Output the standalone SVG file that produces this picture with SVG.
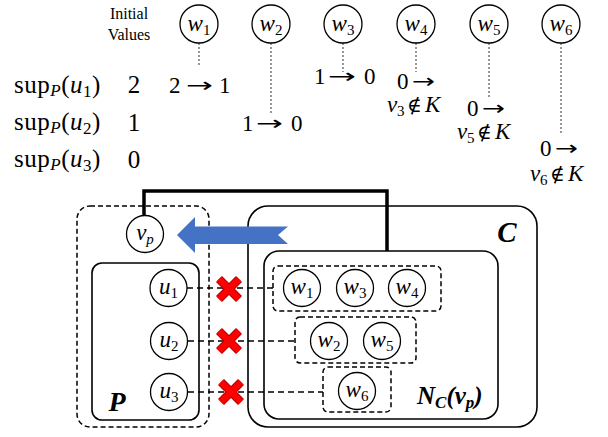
<svg xmlns="http://www.w3.org/2000/svg" width="608" height="437" viewBox="0 0 608 437">
<style>
text{font-family:"Liberation Serif","Times New Roman",serif;fill:#000}
.nd{fill:#fff;stroke:#000;stroke-width:1.3}
.lb{font-size:23px;text-anchor:middle}
.it{font-style:italic}
.sb{font-size:15px}
.dot{stroke:#555;stroke-width:1.2;stroke-dasharray:2 2;fill:none}
.box{fill:none;stroke:#000;stroke-width:1.6}
.dbox{fill:none;stroke:#000;stroke-width:1.5;stroke-dasharray:5 3}
.dl{stroke:#000;stroke-width:1.5;stroke-dasharray:6 4;fill:none}
.row{font-size:25px}
.tr{font-size:23px}
.ar{font-family:"DejaVu Sans",sans-serif;font-size:20px}
.ni{font-family:"DejaVu Serif",serif;font-size:20px}
.xo{stroke:#B00000;stroke-width:8.5;stroke-linecap:butt}
.xi{stroke:#FF0000;stroke-width:6.5;stroke-linecap:butt}
.bi{font-weight:bold;font-style:italic}
</style>

<!-- header -->
<text x="129" y="19" font-size="16" text-anchor="middle">Initial</text>
<text x="129" y="40" font-size="16" text-anchor="middle">Values</text>

<!-- rows -->
<text class="row" x="14" y="93" letter-spacing="0.5">sup<tspan class="it" font-size="17" dy="3">P</tspan><tspan dy="-3">(</tspan><tspan class="it">u</tspan><tspan font-size="17" dy="4">1</tspan><tspan dy="-4">)</tspan></text>
<text class="row" x="14" y="130" letter-spacing="0.5">sup<tspan class="it" font-size="17" dy="3">P</tspan><tspan dy="-3">(</tspan><tspan class="it">u</tspan><tspan font-size="17" dy="4">2</tspan><tspan dy="-4">)</tspan></text>
<text class="row" x="14" y="167" letter-spacing="0.5">sup<tspan class="it" font-size="17" dy="3">P</tspan><tspan dy="-3">(</tspan><tspan class="it">u</tspan><tspan font-size="17" dy="4">3</tspan><tspan dy="-4">)</tspan></text>
<text class="row" x="134" y="93" text-anchor="middle">2</text>
<text class="row" x="134" y="131" text-anchor="middle">1</text>
<text class="row" x="134" y="168" text-anchor="middle">0</text>

<!-- transitions -->
<g id="t1">
<text class="tr" x="169" y="93">2</text>
<text class="ar" x="186" y="92" textLength="27" lengthAdjust="spacingAndGlyphs">→</text>
<text class="tr" x="219" y="93">1</text>
</g>
<g id="t2">
<text class="tr" x="242" y="131">1</text>
<text class="ar" x="256" y="130" textLength="27" lengthAdjust="spacingAndGlyphs">→</text>
<text class="tr" x="291" y="131">0</text>
</g>
<g id="t3">
<text class="tr" x="314" y="84">1</text>
<text class="ar" x="328" y="83" textLength="28" lengthAdjust="spacingAndGlyphs">→</text>
<text class="tr" x="364" y="84">0</text>
</g>
<g id="t4">
<text class="tr" x="397" y="89">0</text>
<text class="ar" x="412" y="88" textLength="23" lengthAdjust="spacingAndGlyphs">→</text>
<text class="tr it" x="387" y="112">v</text>
<text class="sb" x="397" y="116">3</text>
<text class="ni" x="407" y="112">∉</text>
<text class="tr it" x="425" y="112">K</text>
</g>
<g id="t5">
<text class="tr" x="467" y="116">0</text>
<text class="ar" x="482" y="115" textLength="23" lengthAdjust="spacingAndGlyphs">→</text>
<text class="tr it" x="457" y="139">v</text>
<text class="sb" x="467" y="143">5</text>
<text class="ni" x="477" y="139">∉</text>
<text class="tr it" x="495" y="139">K</text>
</g>
<g id="t6">
<text class="tr" x="540" y="156">0</text>
<text class="ar" x="555" y="155" textLength="23" lengthAdjust="spacingAndGlyphs">→</text>
<text class="tr it" x="530" y="181">v</text>
<text class="sb" x="540" y="185">6</text>
<text class="ni" x="550" y="181">∉</text>
<text class="tr it" x="568" y="181">K</text>
</g>

<!-- containers -->
<g id="outerP">
<rect class="dbox" x="77" y="206" width="132" height="221" rx="13"/>
</g>
<g id="P">
<rect class="box" x="92" y="263" width="107" height="157" rx="10"/>
<text class="bi" x="117" y="411" font-size="28" text-anchor="middle">P</text>
</g>
<g id="C">
<rect class="box" x="248" y="206" width="289" height="221" rx="20"/>
<text class="bi" x="507" y="242" font-size="29" text-anchor="middle">C</text>
</g>
<g id="NC">
<rect class="box" x="264" y="251" width="234" height="168" rx="15"/>
<text class="bi" x="417" y="404" font-size="25">N<tspan font-size="17" dy="4">C</tspan><tspan dy="-4">(</tspan>v<tspan font-size="17" dy="4">p</tspan><tspan dy="-4">)</tspan></text>
</g>
<g id="G1"><rect class="dbox" x="273" y="266" width="168" height="45" rx="5"/></g>
<g id="G2"><rect class="dbox" x="295" y="317" width="121" height="46" rx="5"/></g>
<g id="G3"><rect class="dbox" x="323" y="367" width="68" height="45" rx="5"/></g>

<!-- connectors -->
<g id="connectors">
<line class="dot" x1="199" y1="43" x2="199" y2="67"/>
<line class="dot" x1="271" y1="43" x2="271" y2="113"/>
<line class="dot" x1="343" y1="43" x2="343" y2="72"/>
<line class="dot" x1="416" y1="43" x2="416" y2="72"/>
<line class="dot" x1="489" y1="43" x2="489" y2="98"/>
<line class="dot" x1="561" y1="43" x2="561" y2="133"/>
<path d="M144,215 V191 H387 V251" fill="none" stroke="#000" stroke-width="3.5"/>
<line class="dl" x1="187" y1="288" x2="273" y2="288"/>
<line class="dl" x1="188" y1="341" x2="295" y2="341"/>
<line class="dl" x1="188" y1="392" x2="323" y2="392"/>
<polygon points="177,235 195,217 195,226.5 288,226.5 278,235 288,244 195,244 195,253" fill="#4472C4"/>
<g>
<line class="xo" x1="219" y1="279" x2="239" y2="299"/><line class="xo" x1="239" y1="279" x2="219" y2="299"/>
<line class="xo" x1="219" y1="331" x2="239" y2="351"/><line class="xo" x1="239" y1="331" x2="219" y2="351"/>
<line class="xo" x1="221" y1="382" x2="241" y2="402"/><line class="xo" x1="241" y1="382" x2="221" y2="402"/>
<line class="xi" x1="219" y1="279" x2="239" y2="299"/><line class="xi" x1="239" y1="279" x2="219" y2="299"/>
<line class="xi" x1="219" y1="331" x2="239" y2="351"/><line class="xi" x1="239" y1="331" x2="219" y2="351"/>
<line class="xi" x1="221" y1="382" x2="241" y2="402"/><line class="xi" x1="241" y1="382" x2="221" y2="402"/>
</g>
</g>

<!-- top nodes -->
<g id="tw1"><circle class="nd" cx="199" cy="24" r="19"/><text class="lb" x="199" y="31"><tspan class="it">w</tspan><tspan class="sb" dy="4">1</tspan></text></g>
<g id="tw2"><circle class="nd" cx="271" cy="24" r="19"/><text class="lb" x="271" y="31"><tspan class="it">w</tspan><tspan class="sb" dy="4">2</tspan></text></g>
<g id="tw3"><circle class="nd" cx="343" cy="24" r="19"/><text class="lb" x="343" y="31"><tspan class="it">w</tspan><tspan class="sb" dy="4">3</tspan></text></g>
<g id="tw4"><circle class="nd" cx="416" cy="24" r="19"/><text class="lb" x="416" y="31"><tspan class="it">w</tspan><tspan class="sb" dy="4">4</tspan></text></g>
<g id="tw5"><circle class="nd" cx="489" cy="24" r="19"/><text class="lb" x="489" y="31"><tspan class="it">w</tspan><tspan class="sb" dy="4">5</tspan></text></g>
<g id="tw6"><circle class="nd" cx="561" cy="24" r="19"/><text class="lb" x="561" y="31"><tspan class="it">w</tspan><tspan class="sb" dy="4">6</tspan></text></g>

<!-- bottom nodes -->
<g id="vp"><circle class="nd" cx="145" cy="234" r="18.5"/><text class="lb" x="145" y="240"><tspan class="it">v</tspan><tspan class="sb it" dy="4">p</tspan></text></g>
<g id="u1"><circle class="nd" cx="168.5" cy="288" r="18.5"/><text class="lb" x="168.5" y="294"><tspan class="it">u</tspan><tspan class="sb" dy="4">1</tspan></text></g>
<g id="u2"><circle class="nd" cx="169" cy="341" r="18.5"/><text class="lb" x="169" y="347"><tspan class="it">u</tspan><tspan class="sb" dy="4">2</tspan></text></g>
<g id="u3"><circle class="nd" cx="169" cy="392" r="18.5"/><text class="lb" x="169" y="398"><tspan class="it">u</tspan><tspan class="sb" dy="4">3</tspan></text></g>
<g id="w1"><circle class="nd" cx="302" cy="288" r="18.5"/><text class="lb" x="302" y="294"><tspan class="it">w</tspan><tspan class="sb" dy="4">1</tspan></text></g>
<g id="w3"><circle class="nd" cx="355" cy="288" r="18.5"/><text class="lb" x="355" y="294"><tspan class="it">w</tspan><tspan class="sb" dy="4">3</tspan></text></g>
<g id="w4"><circle class="nd" cx="407" cy="288" r="18.5"/><text class="lb" x="407" y="294"><tspan class="it">w</tspan><tspan class="sb" dy="4">4</tspan></text></g>
<g id="w2"><circle class="nd" cx="329" cy="341" r="18.5"/><text class="lb" x="329" y="347"><tspan class="it">w</tspan><tspan class="sb" dy="4">2</tspan></text></g>
<g id="w5"><circle class="nd" cx="382" cy="341" r="18.5"/><text class="lb" x="382" y="347"><tspan class="it">w</tspan><tspan class="sb" dy="4">5</tspan></text></g>
<g id="w6"><circle class="nd" cx="357" cy="391" r="18.5"/><text class="lb" x="357" y="397"><tspan class="it">w</tspan><tspan class="sb" dy="4">6</tspan></text></g>
</svg>
